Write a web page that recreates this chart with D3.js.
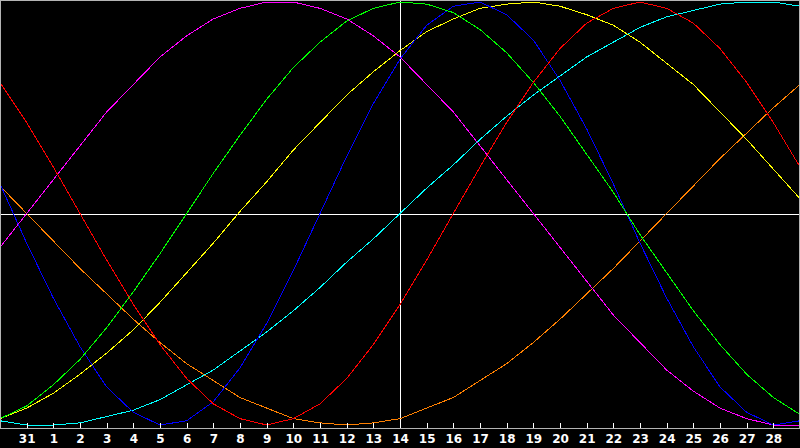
<!DOCTYPE html>
<html>
<head>
<meta charset="utf-8">
<script src="https://cdn.jsdelivr.net/npm/d3@7"></script>
<style>
	html, body { margin:0; padding:0; background:#000; overflow:hidden; }
	.courbe { fill:none; stroke-width:1; shape-rendering:crispEdges; }
	.axe text { fill:#fff; font-family:"DejaVu Sans", sans-serif; font-weight:bold; font-size:12px; }
	.axe line { stroke:#fff; shape-rendering:crispEdges; }
</style>
</head>
<body>
<div id="graphe"></div>
<script>
'use strict';

// jours affiches (index 0 = bord gauche, 30 = bord droit)
var jours = ["30","31","1","2","3","4","5","6","7","8","9","10","11","12","13","14",
	"15","16","17","18","19","20","21","22","23","24","25","26","27","28","29"];

// valeurs en %, une par jour
var rouge   = [62,43,22,0,-22,-43,-62,-78,-90,-97,-100,-97,-90,-78,-62,-43,-22,0,22,43,62,78,90,97,100,97,90,78,62,43,22];
var vert    = [-97,-91,-81,-69,-54,-37,-19,0,19,37,54,69,81,91,97,100,99,95,87,76,62,46,28,10,-10,-28,-46,-62,-76,-87,-95];
var bleu    = [14,-14,-40,-63,-82,-94,-100,-98,-89,-73,-52,-27,0,27,52,73,89,98,100,94,82,63,40,14,-14,-40,-63,-82,-94,-100,-98];
var magenta = [-16,0,16,32,48,61,74,84,92,97,100,100,97,92,84,74,61,48,32,16,0,-16,-32,-48,-61,-74,-84,-92,-97,-100,-100];
var jaune   = [-97,-92,-85,-76,-66,-55,-42,-28,-14,1,15,30,43,56,67,77,86,92,97,99,100,98,94,89,81,71,61,48,35,21,7];
var cyan    = [-98,-100,-100,-99,-96,-93,-88,-81,-74,-65,-56,-46,-35,-23,-12,0,12,23,35,46,56,65,74,81,88,93,96,99,100,100,98];
var orange  = [13,0,-13,-26,-38,-50,-61,-71,-79,-87,-92,-97,-99,-100,-99,-97,-92,-87,-79,-71,-61,-50,-38,-26,-13,0,13,26,38,50,61];

var courbes = [
	{couleur:"#ff8000", valeurs:orange},
	{couleur:"#00ffff", valeurs:cyan},
	{couleur:"#ffff00", valeurs:jaune},
	{couleur:"#ff00ff", valeurs:magenta},
	{couleur:"#0000ff", valeurs:bleu},
	{couleur:"#00ff00", valeurs:vert},
	{couleur:"#ff0000", valeurs:rouge}
];

var width = 800;
var height = 448;
var basAxe = 428; // ligne grise du bas

var svg = d3.select("#graphe")
	.append("svg")
	.attr("width", width)
	.attr("height", height)
	.style("display", "block")
	.style("background", "#000");

var x = d3.scaleLinear().domain([0, jours.length - 1]).range([0, width]);
var y = d3.scaleLinear().domain([-100, 100]).range([425, 2]);

svg.append("clipPath").attr("id", "zone")
	.append("rect")
	.attr("x", 0).attr("y", 0)
	.attr("width", width).attr("height", basAxe);

// axes centraux blancs
svg.append("line")
	.attr("x1", 0).attr("x2", width)
	.attr("y1", Math.round(y(0)) + 0.5).attr("y2", Math.round(y(0)) + 0.5)
	.attr("stroke", "#fff")
	.style("shape-rendering", "crispEdges");

svg.append("line")
	.attr("x1", x(15) + 0.5).attr("x2", x(15) + 0.5)
	.attr("y1", 0).attr("y2", basAxe)
	.attr("stroke", "#fff")
	.style("shape-rendering", "crispEdges");

// courbes
var ligne = d3.line()
	.x(function(d, i) { return x(i); })
	.y(function(d) { return y(d); });

svg.append("g")
	.attr("clip-path", "url(#zone)")
	.selectAll("path")
	.data(courbes)
	.enter()
	.append("path")
	.attr("class", "courbe")
	.attr("stroke", function(d) { return d.couleur; })
	.attr("d", function(d) { return ligne(d.valeurs); });

// cadre gris
svg.append("rect")
	.attr("x", 0.5).attr("y", 0.5)
	.attr("width", width - 1).attr("height", basAxe)
	.attr("fill", "none")
	.attr("stroke", "#b4b4b4")
	.style("shape-rendering", "crispEdges");

// graduations et jours
var ticks = d3.range(1, jours.length - 1);
var axe = d3.axisBottom(x)
	.tickValues(ticks)
	.tickFormat(function(d) { return jours[d]; })
	.tickSizeInner(-5)
	.tickSizeOuter(0)
	.tickPadding(6);

svg.append("g")
	.attr("class", "axe")
	.attr("transform", "translate(0," + basAxe + ")")
	.call(axe)
	.call(function(g) { g.select(".domain").remove(); });
</script>
</body>
</html>
